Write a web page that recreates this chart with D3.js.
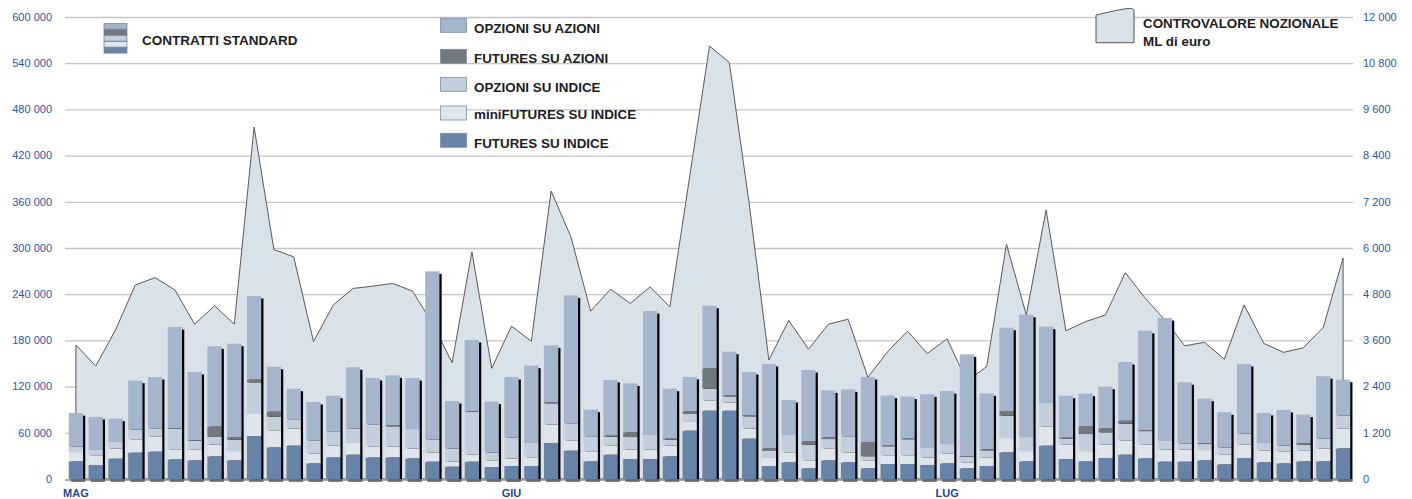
<!DOCTYPE html>
<html><head><meta charset="utf-8">
<script src="https://cdn.jsdelivr.net/npm/d3@7"></script>
<style>
html,body{margin:0;padding:0;background:#fff;}
svg{display:block;font-family:"Liberation Sans",Arial,sans-serif;}
</style></head>
<body><svg id="c" width="1412" height="499"></svg>
<script>
const months = ["MAG","GIU","LUG"];
const monthStart = [0,22,44];
const seriesNames = ["FUTURES SU INDICE","miniFUTURES SU INDICE","OPZIONI SU INDICE","FUTURES SU AZIONI","OPZIONI SU AZIONI"];
const futuresIndice = [22900,18200,26400,34200,35500,25500,24200,29400,24200,55800,41100,43300,20300,28100,31600,28100,28100,26800,22500,16000,22500,15600,16900,16900,46800,36800,22900,31600,26000,26000,29400,62800,88700,88700,52400,16900,21600,13900,24200,21600,13900,19500,19500,18200,20300,13900,16900,34600,22900,43300,26000,22900,27300,31600,26800,22500,22500,24200,19000,27300,21600,20300,22900,22900,39800];
const miniFutures = [12100,12600,13000,17300,19500,13000,13900,15200,12100,28600,22100,22100,13000,15600,15200,14300,13900,12600,11700,6500,9500,8700,9500,11300,23800,13400,13000,12100,12100,12100,13900,11300,13400,10400,13000,10400,13000,10400,15600,13000,10400,11300,11300,9500,13000,7800,10800,18600,13400,25100,18600,13400,17300,18600,17700,15600,15600,13400,13000,17300,15200,15600,14300,16500,25500];
const opzioniIndice = [6900,6900,8700,12600,10800,26400,11300,10000,14700,41100,17700,12100,16900,18200,18600,28600,26400,25500,16900,16900,55000,10000,27300,18600,27700,22100,19500,11300,16400,19000,7800,10400,15200,8200,16000,9100,22500,20300,12100,20800,5200,11700,20800,12600,12100,6900,9500,29000,18200,30300,7800,22100,16000,21600,17700,11300,7800,7800,8700,14300,10000,7400,7400,13000,16900];
const futuresAzioni = [0,0,0,0,0,1300,900,13400,3500,3500,6500,0,0,0,0,0,1700,0,0,0,900,0,0,0,1700,0,0,1300,6100,0,1300,3500,26400,1300,1700,3500,0,4300,2200,0,18600,900,900,0,0,1300,1300,6100,0,0,1300,10000,5200,3900,1300,0,0,1300,0,0,0,0,2200,0,0];
const opzioniAzioni = [43700,42900,30300,63600,66700,131200,88700,104300,121200,108700,58400,39800,49800,46300,79700,60200,64500,66200,218600,61900,92600,66200,78800,100400,73600,166200,34600,72300,63600,161000,64900,44600,81400,56700,55800,109500,45500,92600,61000,61000,84400,64900,54500,69700,68800,132000,72700,108200,158900,99100,54500,42400,54100,76200,129000,159700,79700,57600,45900,90500,39000,46300,36800,81000,46800];
const controvalore = [3480,2935,3870,5040,5230,4910,4020,4500,4020,9140,5960,5770,3570,4520,4950,5010,5080,4880,4050,3020,5900,2875,3970,3580,7480,6290,4360,4930,4560,4990,4470,7860,11245,10820,7170,3090,4120,3370,4020,4150,2640,3310,3840,3260,3640,2545,2920,6100,4260,6990,3850,4090,4260,5360,4700,4130,3460,3550,3110,4520,3520,3290,3410,3940,5740];
const leftTicks = [0,60000,120000,180000,240000,300000,360000,420000,480000,540000,600000];
const rightTicks = [0,1200,2400,3600,4800,6000,7200,8400,9600,10800,12000];

const colors = ["#6783a8","#dee5ed","#c3cfdc","#72787f","#a5b6cc"];
const areaFill = "#d9e1e9";

const svg = d3.select("#c");
const n = futuresIndice.length;
const idx = d3.range(n);
const x = d3.scaleBand().domain(idx).range([66, 1353]).paddingInner(0.278).paddingOuter(0.139);
const yL = d3.scaleLinear().domain([0,600000]).range([479,17]);
const yR = d3.scaleLinear().domain([0,12000]).range([479,17]);
const loc = d3.formatLocale({decimal:",",thousands:" ",grouping:[3],currency:["","€"]});
const fmt = loc.format(",");

// gridlines
svg.append("g").selectAll("line").data(leftTicks.slice(1)).join("line")
  .attr("x1",65).attr("x2",1353).attr("y1",d=>yL(d)+0.5).attr("y2",d=>yL(d)+0.5)
  .attr("stroke","#c4c4c4").attr("stroke-width",1.3);

// area
const cx = i => x(i) + x.bandwidth()/2;
const area = d3.area().x((d,i)=>cx(i)).y0(yR(0)).y1(d=>yR(d));
svg.append("path").datum(controvalore).attr("d",area)
  .attr("fill",areaFill).attr("stroke","#5a5a5a").attr("stroke-width",1).attr("stroke-linejoin","miter");

// stacked bars
const table = idx.map(i=>({i, a:futuresIndice[i], b:miniFutures[i], c:opzioniIndice[i], d:futuresAzioni[i], e:opzioniAzioni[i]}));
const keys = ["a","b","c","d","e"];
const stack = d3.stack().keys(keys)(table);
const totals = table.map(r=>r.a+r.b+r.c+r.d+r.e);
// shadows
svg.append("g").selectAll("rect").data(table).join("rect")
  .attr("x",d=>x(d.i)+2.2).attr("y",d=>yL(totals[d.i])+2.5)
  .attr("width",x.bandwidth()).attr("height",d=>yL(0)-yL(totals[d.i]))
  .attr("fill","#000");
stack.forEach((s,k)=>{
  svg.append("g").selectAll("rect").data(s).join("rect")
    .attr("x",(d,i)=>x(i)).attr("y",d=>yL(d[1]))
    .attr("width",x.bandwidth()).attr("height",d=>Math.max(0,yL(d[0])-yL(d[1])))
    .attr("fill",colors[k]);
});
// baseline
svg.append("line").attr("x1",65).attr("x2",1353).attr("y1",yL(0)+1).attr("y2",yL(0)+1)
  .attr("stroke","#8c8c8c").attr("stroke-width",1.5);

// axes labels
svg.append("g").selectAll("text").data(leftTicks).join("text")
  .attr("x",52).attr("y",d=>yL(d)).attr("dy","0.35em").attr("text-anchor","end")
  .attr("font-size",11).attr("fill","#2a57a2").text(d=>fmt(d));
svg.append("g").selectAll("text").data(rightTicks).join("text")
  .attr("x",1363).attr("y",d=>yR(d)).attr("dy","0.35em").attr("text-anchor","start")
  .attr("font-size",11).attr("fill","#2a57a2").text(d=>fmt(d));
svg.append("g").selectAll("text").data(months).join("text")
  .attr("x",(d,i)=>cx(monthStart[i])).attr("y",497).attr("text-anchor","middle")
  .attr("font-size",11).attr("font-weight","bold").attr("fill","#1f4b94").text(d=>d);

// legend (series)
const legY = [18.3,49.3,77.3,106,133.3];
const legBase = [33.3,63.3,91.7,119.3,147.5];
const legOrder = [4,3,2,1,0];
const lg = svg.append("g");
legOrder.forEach((k,j)=>{
  lg.append("rect").attr("x",440.5).attr("y",legY[j]).attr("width",26).attr("height",14)
    .attr("fill",colors[k]).attr("stroke","#7e8ea4").attr("stroke-width",0.8);
  lg.append("text").attr("x",474).attr("y",legBase[j]).attr("font-size",13.4).attr("font-weight","bold")
    .attr("fill","#1c1d24").text(seriesNames[k]);
});
// contratti standard icon
[4,3,2,1,0].forEach((k,j)=>{
  svg.append("rect").attr("x",104).attr("y",23.5+j*6).attr("width",23).attr("height",5.6)
    .attr("fill",colors[k]).attr("stroke","#6f7f96").attr("stroke-width",0.7);
});
svg.append("text").attr("x",142).attr("y",45).attr("font-size",13.5).attr("font-weight","bold")
  .attr("fill","#1c1d24").text("CONTRATTI STANDARD");
// controvalore legend
svg.append("path").attr("d","M1096,15 C1110,12 1120,9 1131,8.3 L1134,10 L1134,42.7 L1096,42.7 Z")
  .attr("fill",areaFill).attr("stroke","#555").attr("stroke-width",1);
svg.append("text").attr("x",1143).attr("y",28.3).attr("font-size",13.4).attr("font-weight","bold")
  .attr("fill","#1c1d24").text("CONTROVALORE NOZIONALE");
svg.append("text").attr("x",1143).attr("y",45.7).attr("font-size",13.4).attr("font-weight","bold")
  .attr("fill","#1c1d24").text("ML di euro");
</script></body></html>
